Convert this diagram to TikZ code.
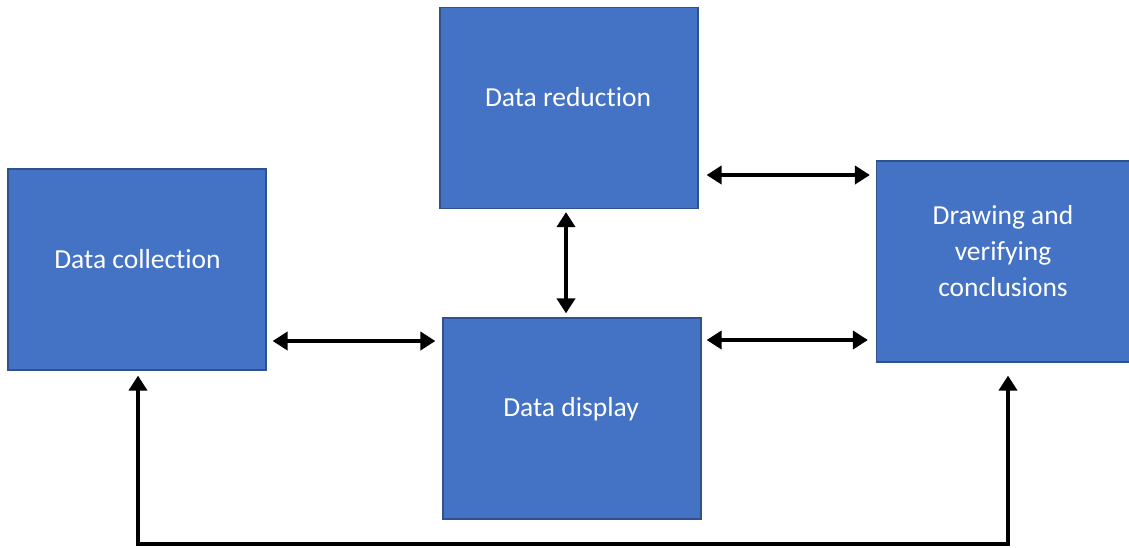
\documentclass[tikz,border=0pt]{standalone}
\usepackage{fontspec}
\setmainfont{Carlito}[Ligatures=NoCommon]
\usetikzlibrary{arrows.meta}
\definecolor{boxfill}{HTML}{4472C4}
\definecolor{boxline}{HTML}{2F528F}
\tikzset{
  procbox/.style={draw=boxline, line width=1.2pt, fill=boxfill, minimum width=#1, minimum height=201pt, inner sep=0pt},
  procbox/.default=258pt,
  boxtext/.style={text=white, font=\fontsize{27.5}{36}\selectfont, align=center, inner sep=0pt},
  link/.style={line width=4.3pt, {Triangle[width=18pt,length=15pt]}-{Triangle[width=18pt,length=15pt]}},
  uplink/.style={line width=4.3pt, -{Triangle[width=18pt,length=15pt]}}
}
\begin{document}
\begin{tikzpicture}[x=1pt,y=-1pt]
\useasboundingbox (0,0) rectangle (1129,547);
\node[procbox] (coll) at (137,269.5) {};
\node[procbox] (red) at (569,108) {};
\node[procbox] (disp) at (572,418.5) {};
\node[procbox=253pt] (concl) at (1003,261.5) {};
\node[boxtext] (tcoll) at (137.5,259.5) {Data collection};
\node[boxtext] (tred) at (568,97) {Data reduction};
\node[boxtext] (tdisp) at (571,409) {Data display};
\node[boxtext] (tconcl) at (1003,251) {Drawing and\\verifying\\conclusions};
\coordinate (ya) at (0,341);
\coordinate (yb) at (0,175);
\coordinate (yc) at (0,340);
\coordinate (xv) at (566,0);
\coordinate (xl) at (138,0);
\coordinate (xr) at (1008,0);
\coordinate (ybot) at (0,544);
\draw[link, shorten <=6pt, shorten >=7pt] (coll.east |- ya) -- (disp.west |- ya);
\draw[link, shorten <=3pt, shorten >=4pt] (red.south -| xv) -- (disp.north -| xv);
\draw[link, shorten <=8pt, shorten >=6pt] (red.east |- yb) -- (concl.west |- yb);
\draw[link, shorten <=5pt, shorten >=8pt] (disp.east |- yc) -- (concl.west |- yc);
\coordinate (bl) at (xl |- ybot);
\coordinate (br) at (xr |- ybot);
\draw[line width=4.3pt] (bl) -- (br);
\draw[uplink, shorten >=5pt] ([yshift=-2pt]bl) -- (coll.south -| xl);
\draw[uplink, shorten >=13pt] ([yshift=-2pt]br) -- (concl.south -| xr);
\end{tikzpicture}
\end{document}
